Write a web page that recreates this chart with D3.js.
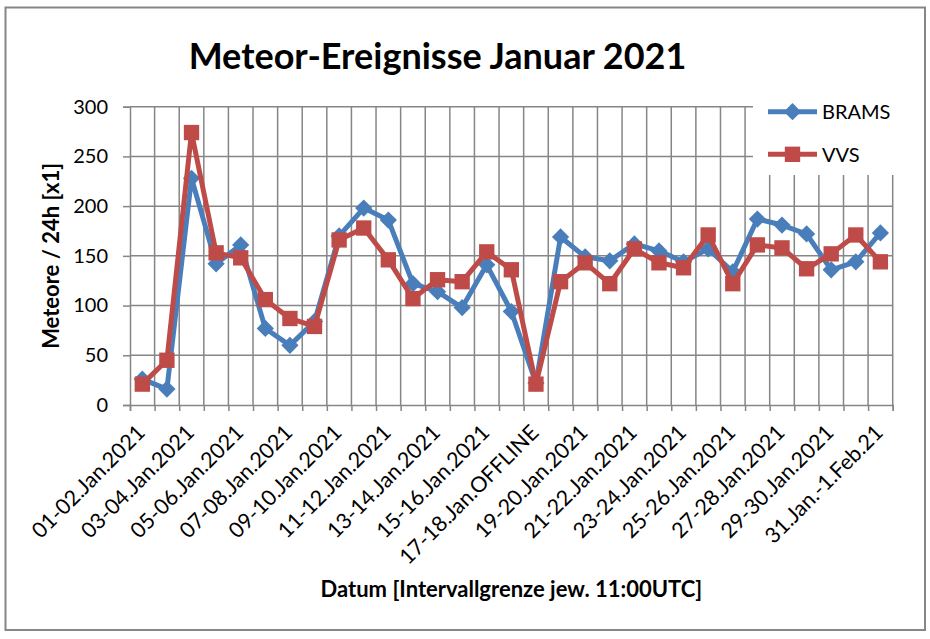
<!DOCTYPE html>
<html>
<head>
<meta charset="utf-8">
<script src="https://cdn.jsdelivr.net/npm/d3@7.9.0/dist/d3.min.js"></script>
<style>
  html, body { margin: 0; padding: 0; background: #fff; }
  svg { display: block; font-family: Lato, "Open Sans", sans-serif; }
</style>
</head>
<body>
<svg id="chart" width="930" height="639"></svg>
<script>
// Zeitraeume (je 24h, Grenze 11:00 UTC)
const categories = [
  "01-02.Jan.2021", "02-03.Jan.2021", "03-04.Jan.2021", "04-05.Jan.2021",
  "05-06.Jan.2021", "06-07.Jan.2021", "07-08.Jan.2021", "08-09.Jan.2021",
  "09-10.Jan.2021", "10-11.Jan.2021", "11-12.Jan.2021", "12-13.Jan.2021",
  "13-14.Jan.2021", "14-15.Jan.2021", "15-16.Jan.2021", "16-17.Jan.2021",
  "17-18.Jan.OFFLINE", "18-19.Jan.2021", "19-20.Jan.2021", "20-21.Jan.2021",
  "21-22.Jan.2021", "22-23.Jan.2021", "23-24.Jan.2021", "24-25.Jan.2021",
  "25-26.Jan.2021", "26-27.Jan.2021", "27-28.Jan.2021", "28-29.Jan.2021",
  "29-30.Jan.2021", "30-31.Jan.2021", "31.Jan.-1.Feb.21"
];

const bramsValues = [26, 16, 228, 142, 161, 77, 60, 84, 170, 198, 186, 122, 114, 98, 141, 94,
  22, 169, 149, 145, 162, 155, 144, 157, 134, 187, 181, 172, 136, 144, 173];

const vvsValues = [21, 45, 274, 153, 148, 106, 87, 79, 166, 178, 146, 107, 126, 124, 154, 136,
  21, 124, 143, 122, 157, 143, 138, 171, 122, 161, 158, 137, 152, 171, 144];

const yTicks = [0, 50, 100, 150, 200, 250, 300];

const series = [
  { name: "BRAMS", values: bramsValues, color: "#4a7ebb", marker: d3.symbolDiamond2, size: 190 },
  { name: "VVS", values: vvsValues, color: "#be4b48", marker: d3.symbolSquare2, size: 300 }
];

const svg = d3.select("#chart");

// Rahmen des Diagrammbereichs
svg.append("rect")
  .attr("x", 5.5).attr("y", 7.5)
  .attr("width", 919.5).attr("height", 622.5)
  .attr("fill", "#fff")
  .attr("stroke", "#868686")
  .attr("stroke-width", 2);

const plotLeft = 130, plotRight = 892.7, plotTop = 106.7, plotBottom = 405;

const x = d3.scaleBand().domain(categories).range([plotLeft, plotRight]);
const xIdx = d3.scaleLinear().domain([0, categories.length]).range([plotLeft, plotRight]);
const y = d3.scaleLinear().domain([0, 300]).range([plotBottom, plotTop]);

const cx = (d, i) => x(categories[i]) + x.bandwidth() / 2;

// Gitternetz
const grid = svg.append("g").attr("stroke", "#868686").attr("stroke-width", 1.5);
grid.selectAll("line.h")
  .data(yTicks.slice(1))
  .join("line")
  .attr("class", "h")
  .attr("x1", plotLeft).attr("x2", plotRight)
  .attr("y1", d => y(d)).attr("y2", d => y(d));
grid.selectAll("line.v")
  .data(d3.range(1, categories.length + 1))
  .join("line")
  .attr("class", "v")
  .attr("x1", d => xIdx(d)).attr("x2", d => xIdx(d))
  .attr("y1", plotTop).attr("y2", plotBottom);

// Achsen
const yAxis = svg.append("g")
  .attr("transform", `translate(${plotLeft},0)`)
  .call(d3.axisLeft(y).tickValues(yTicks).tickSize(7).tickPadding(15));

const xAxis = svg.append("g")
  .attr("transform", `translate(0,${plotBottom})`)
  .call(d3.axisBottom(xIdx).tickValues(d3.range(0, categories.length + 1)).tickSize(6).tickFormat(""));

[yAxis, xAxis].forEach(a => {
  a.select(".domain").attr("stroke", "#868686").attr("stroke-width", 1.5);
  a.selectAll(".tick line").attr("stroke", "#868686").attr("stroke-width", 1.5);
});
yAxis.selectAll(".tick text")
  .attr("font-size", 20)
  .attr("font-family", "Lato, sans-serif")
  .attr("fill", "#000");

// Kategorie-Beschriftung (jede zweite), um -45 Grad gedreht
svg.append("g")
  .selectAll("text")
  .data(categories.filter((c, i) => i % 2 === 0))
  .join("text")
  .attr("transform", d => `translate(${x(d) + x.bandwidth() / 2 + 4},434) rotate(-45)`)
  .attr("text-anchor", "end")
  .attr("font-size", 21.5)
  .text(d => d);

// weisser Legendenhintergrund verdeckt das Gitter
svg.append("rect")
  .attr("x", 753).attr("y", 92)
  .attr("width", 165).attr("height", 83)
  .attr("fill", "#fff");

// Datenreihen
const line = d3.line().x(cx).y(d => y(d));

series.forEach(s => {
  svg.append("path")
    .attr("d", line(s.values))
    .attr("fill", "none")
    .attr("stroke", s.color)
    .attr("stroke-width", 5)
    .attr("stroke-linejoin", "round");

  svg.append("g")
    .selectAll("path")
    .data(s.values)
    .join("path")
    .attr("transform", (d, i) => `translate(${cx(d, i)},${y(d)})`)
    .attr("d", d3.symbol(s.marker, s.size))
    .attr("fill", s.color);
});

// Legende
const legend = svg.append("g")
  .selectAll("g")
  .data(series)
  .join("g")
  .attr("transform", (d, i) => `translate(768,${111.7 + i * 42.6})`);

legend.append("line")
  .attr("x1", 0).attr("x2", 49)
  .attr("stroke", d => d.color)
  .attr("stroke-width", 5);
legend.append("path")
  .attr("transform", "translate(24.5,0)")
  .attr("d", d => d3.symbol(d.marker, d.size)())
  .attr("fill", d => d.color);
legend.append("text")
  .attr("x", 54)
  .attr("dy", "0.36em")
  .attr("font-size", 20)
  .text(d => d.name);

// Titel
svg.append("text")
  .attr("x", 437.5).attr("y", 69.3)
  .attr("text-anchor", "middle")
  .attr("font-size", 36)
  .attr("font-weight", "bold")
  .text("Meteor-Ereignisse Januar 2021");

// Achsentitel
svg.append("text")
  .attr("x", (plotLeft + plotRight) / 2).attr("y", 597)
  .attr("text-anchor", "middle")
  .attr("font-size", 22)
  .attr("font-weight", "bold")
  .text("Datum [Intervallgrenze jew. 11:00UTC]");

svg.append("text")
  .attr("transform", `translate(59,${(plotTop + plotBottom) / 2}) rotate(-90)`)
  .attr("text-anchor", "middle")
  .attr("font-size", 22)
  .attr("font-weight", "bold")
  .text("Meteore / 24h [x1]");
</script>
</body>
</html>
